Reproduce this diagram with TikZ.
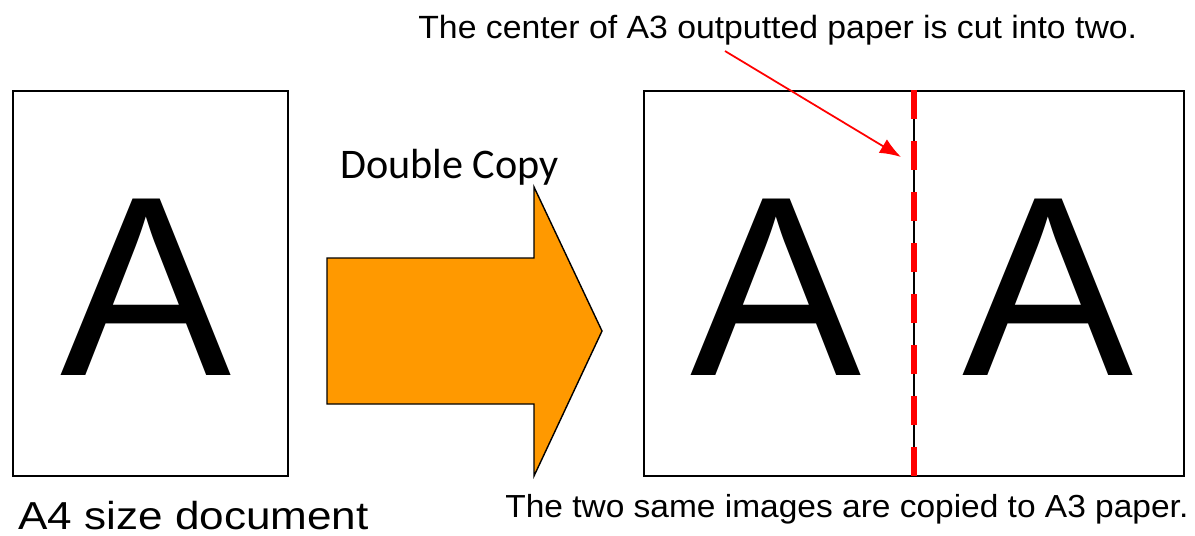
\documentclass[tikz,border=0pt]{standalone}
\usepackage{fontspec}
\setmainfont{Liberation Sans}
\newfontfamily\widefont[FakeStretch=1.05]{Liberation Sans}
\newfontfamily\labelfont[FakeStretch=1.13]{Liberation Sans}
\newfontfamily\copyfont{Carlito}
\usetikzlibrary{calc, arrows.meta}
\definecolor{arroworange}{HTML}{FF9900}
\definecolor{cutred}{HTML}{FF0000}
\tikzset{
  sheet/.style={draw=black, line width=1.2pt, fill=white, inner sep=0pt},
  bigletter/.style={font=\fontsize{146}{146}\selectfont, inner sep=0pt},
  caption/.style={font=\widefont\fontsize{18.3}{22}\selectfont, inner sep=0pt}
}
\begin{document}
\begin{tikzpicture}[x=0.02cm, y=-0.02cm]
    \useasboundingbox (0,0) rectangle (1195,535);

    % --- 1. 兩張紙 A4, A3 ---
    \node[sheet, minimum width=5.5cm, minimum height=7.7cm, anchor=north west] (a4) at (12,90) {};
    \node[sheet, minimum width=10.8cm, minimum height=7.7cm, anchor=north west] (a3) at (643,90) {};

    % --- 2. 大字 A ---
    \node[bigletter, anchor=base] (letterL) at (146,375) {A};
    \node[bigletter, anchor=base] (letterM) at (776,375) {A};
    \node[bigletter, anchor=base] (letterR) at (1048,375) {A};

    % --- 3. 裁切線 ---
    \draw[black, line width=0.8pt] (a3.north) -- (a3.south);
    \draw[cutred, line width=3.6pt, dash pattern=on 0.58cm off 0.44cm] (a3.north) -- (a3.south);

    % --- 4. 橙色箭頭 ---
    \draw[black, line width=0.8pt, fill=arroworange]
        (327,258) -- (534,258) -- (534,187) -- (602,331)
        -- (534,476) -- (534,404) -- (327,404) -- cycle;

    % --- 5. 標籤 ---
    \node[font=\copyfont\fontsize{24}{28}\selectfont, inner sep=0pt, anchor=base west] (copy) at (340,178) {Double Copy};
    \node[font=\labelfont\fontsize{22.2}{26}\selectfont, inner sep=0pt, anchor=base west] (a4label) at (18,529) {A4 size document};
    \node[caption, anchor=base west] (cuttext) at (418,38) {The center of A3 outputted paper is cut into two.};
    \node[caption, font=\widefont\fontsize{18.15}{22}\selectfont, anchor=base west] (copytext) at (505,517) {The two same images are copied to A3 paper.};

    % 紅色指示箭頭
    \coordinate (cuttip) at (901,157);
    \draw[cutred, line width=1pt, -{Latex[length=12pt, width=9pt]}] ($(cuttext.south west)+(307,6)$) -- (cuttip);
\end{tikzpicture}
\end{document}
